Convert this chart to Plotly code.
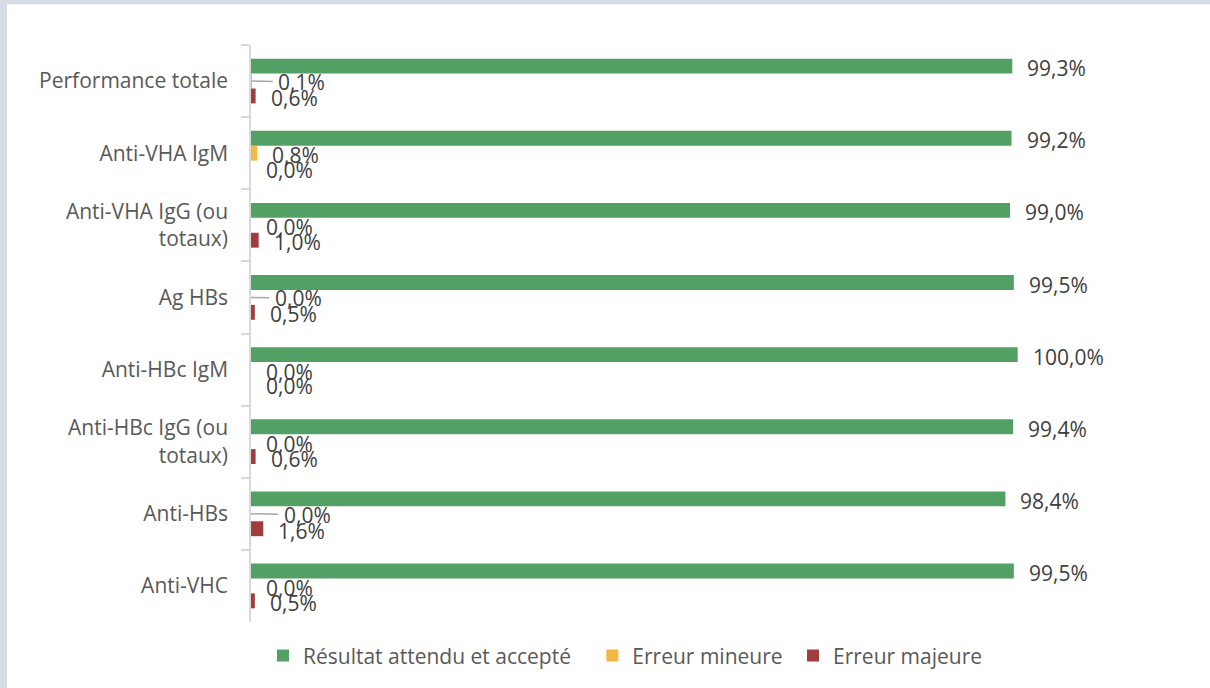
import plotly.graph_objects as go

# ---------------- data ----------------
categories = [
    "Performance totale",
    "Anti-VHA IgM",
    "Anti-VHA IgG (ou<br>totaux)",
    "Ag HBs",
    "Anti-HBc IgM",
    "Anti-HBc IgG (ou<br>totaux)",
    "Anti-HBs",
    "Anti-VHC",
]
series_names = ["Résultat attendu et accepté", "Erreur mineure", "Erreur majeure"]
accepte = [99.3, 99.2, 99.0, 99.5, 100.0, 99.4, 98.4, 99.5]
mineure = [0.1, 0.8, 0.0, 0.0, 0.0, 0.0, 0.0, 0.0]
majeure = [0.6, 0.0, 1.0, 0.5, 0.0, 0.6, 1.6, 0.5]

# ---------------- style ----------------
colors = ["#53A064", "#F2B843", "#A23B3B"]
FONT = "Open Sans"
FS = 21
W, H = 1210, 688
M = dict(l=251, r=39, t=45, b=64)
BARGAP = 0.38
# labels that have a leader line: (category index, series index) -> pixel offset
LEADERS = {(0, 1): 50, (3, 1): 47, (6, 1): 56}
LEGEND_PADS = ["\u00a0\u00a0\u00a0", "\u00a0", ""]

series_values = [accepte, mineure, majeure]

fig = go.Figure()
for name, vals, col, pad in zip(series_names, series_values, colors, LEGEND_PADS):
    fig.add_trace(go.Bar(
        y=categories, x=vals,
        name=name + pad,
        orientation="h",
        marker=dict(color=col, line=dict(width=0)),
        hoverinfo="skip",
    ))

nser = len(series_names)
w = (1 - BARGAP) / nser
annotations = []
for k, vals in enumerate(series_values):
    for i, v in enumerate(vals):
        txt = f"{v:.1f}".replace(".", ",") + "%"
        yy = i + (k - (nser - 1) / 2) * w
        if (i, k) in LEADERS:
            annotations.append(dict(
                x=v, y=yy, xref="x", yref="y", text=txt,
                showarrow=True, arrowhead=0, arrowwidth=1.5, arrowcolor="#A6A6A6",
                ax=LEADERS[(i, k)], ay=1, borderpad=5,
                font=dict(family=FONT, size=FS, color="#404040"),
            ))
        else:
            annotations.append(dict(
                x=v, y=yy, xref="x", yref="y", text=txt,
                showarrow=False, xanchor="left", yanchor="middle",
                xshift=13, yshift=-2,
                font=dict(family=FONT, size=FS, color="#404040"),
            ))

pw = W - M["l"] - M["r"]
ph = H - M["t"] - M["b"]


def px_x(p):
    return (p - M["l"]) / pw


def px_y(p):
    return (H - M["b"] - p) / ph


border = "#D6DCE5"
shapes = [
    dict(type="rect", xref="paper", yref="paper", x0=px_x(0), x1=px_x(W + 5),
         y0=px_y(4), y1=px_y(-2), fillcolor=border, line=dict(width=0), layer="below"),
    dict(type="rect", xref="paper", yref="paper", x0=px_x(-2), x1=px_x(7),
         y0=px_y(H + 5), y1=px_y(-2), fillcolor=border, line=dict(width=0), layer="below"),
]

fig.update_layout(
    width=W, height=H,
    margin=M,
    paper_bgcolor="white", plot_bgcolor="white",
    barmode="group", bargap=BARGAP, bargroupgap=0,
    separators=", ",
    font=dict(family=FONT, size=FS, color="#595959"),
    xaxis=dict(visible=False, range=[0, 120], fixedrange=True),
    yaxis=dict(
        autorange="reversed", type="category",
        showline=True, linecolor="#D9D9D9", linewidth=1.5,
        ticks="outside", ticklen=8, tickcolor="#D9D9D9", tickwidth=1.5,
        tickson="boundaries", showgrid=False, zeroline=False,
        tickfont=dict(family=FONT, size=FS, color="#595959"),
        ticklabelstandoff=17,
    ),
    legend=dict(
        orientation="h", x=px_x(263), xanchor="left",
        y=px_y(658), yanchor="middle",
        font=dict(family=FONT, size=FS, color="#595959"),
        traceorder="normal", itemclick=False, itemdoubleclick=False,
    ),
    annotations=annotations,
    shapes=shapes,
    showlegend=True,
)

fig.write_html(
    "out.html",
    config={"displayModeBar": False},
    post_script="document.body.style.margin='0';document.body.style.overflow='hidden';",
)
